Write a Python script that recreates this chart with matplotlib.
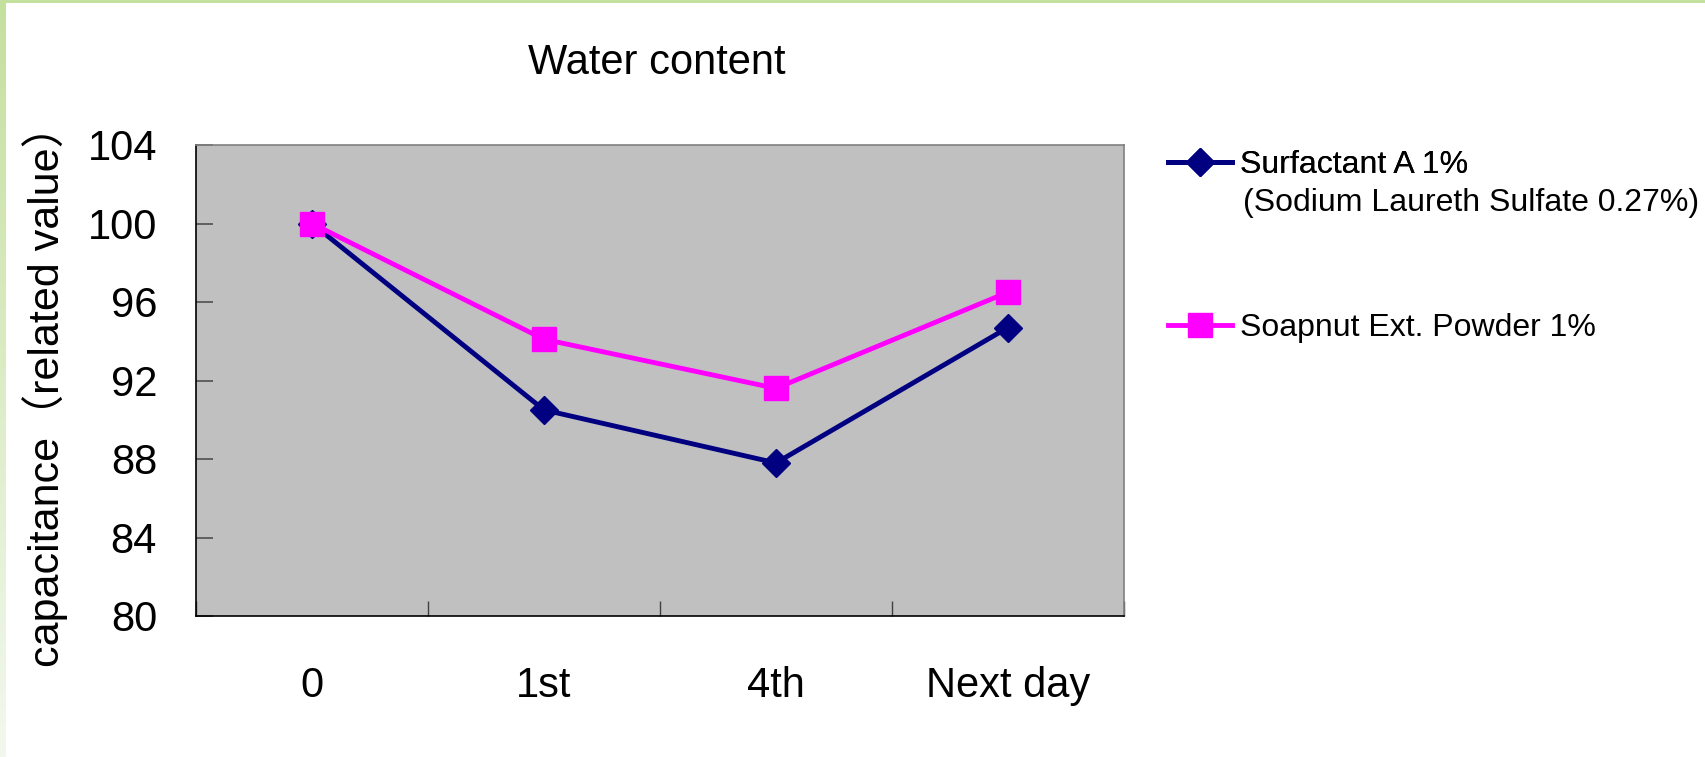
import numpy as np
import matplotlib
matplotlib.use('Agg')
from matplotlib import pyplot as plt
from matplotlib.patches import Rectangle
from matplotlib.ticker import FixedLocator, NullFormatter

categories = ['0', '1st', '4th', 'Next day']
surfactant = [100.0, 90.5, 87.8, 94.7]
soapnut = [100.0, 94.1, 91.6, 96.5]
yticks = [80, 84, 88, 92, 96, 100, 104]

label_a = 'Surfactant A 1%'
label_a2 = '(Sodium Laureth Sulfate 0.27%)'
label_b = 'Soapnut Ext. Powder 1%'

font = ['Liberation Sans', 'Noto Sans CJK JP', 'DejaVu Sans']
W, H = 1706, 757

fig = plt.figure(figsize=(W / 100, H / 100), dpi=100)
fig.patch.set_facecolor('white')

# green frame at top/left
fig.patches.append(Rectangle((0, 1 - 3 / H), 1, 3 / H, transform=fig.transFigure,
                             facecolor='#c4e09e', edgecolor='none', zorder=0))
gax = fig.add_axes([0, 0, 6 / W, 1])
grad = np.linspace(0, 1, 256).reshape(-1, 1)
gax.imshow(grad, aspect='auto', cmap=matplotlib.colors.LinearSegmentedColormap.from_list(
    'g', ['#c4e09e', '#f3f8ee']), extent=[0, 1, 0, 1])
gax.axis('off')

ax = fig.add_axes([196 / W, 1 - 616 / H, (1124 - 196) / W, (616 - 145) / H])
ax.set_facecolor('#c0c0c0')

x = np.arange(len(categories)) + 0.5
l1, = ax.plot(x, surfactant, color='#000080', lw=3.5, marker='D', markersize=14,
              markeredgecolor='#000080', label=label_a, zorder=3)
l2, = ax.plot(x, soapnut, color='#ff00ff', lw=3.5, marker='s', markersize=17,
              markeredgecolor='#ff00ff', label=label_b, zorder=4)

ax.set_xlim(0, len(categories))
ax.set_ylim(80, 104)
ax.set_yticks(yticks)
ax.set_xticks(x)
ax.set_xticklabels(categories, family=font, fontsize=30)
ax.xaxis.set_minor_locator(FixedLocator(np.arange(len(categories) + 1)))
ax.xaxis.set_minor_formatter(NullFormatter())
ax.tick_params(axis='x', which='major', length=0, pad=36)
ax.tick_params(axis='x', which='minor', direction='in', length=11, width=1, color='#404040')
ax.tick_params(axis='y', direction='in', length=12, width=1.2, color='#505050', pad=28,
               labelsize=30)
for t in ax.get_yticklabels():
    t.set_family(font)

for side in ['left', 'bottom']:
    ax.spines[side].set_color('black')
    ax.spines[side].set_linewidth(1.2)
for side in ['top', 'right']:
    ax.spines[side].set_color('#808080')
    ax.spines[side].set_linewidth(1.2)

fig.text(657 / W, 1 - 63 / H, 'Water content', family=font, fontsize=30,
         ha='center', va='center')
fig.text(45 / W, 1 - 386 / H, 'capacitance（related value）',
         family=font, fontsize=31, rotation=90, ha='center', va='center')

leg1 = fig.legend([l1], [label_a], loc='center left', bbox_to_anchor=(1168 / W, 1 - 165 / H),
                  frameon=False, borderpad=0, borderaxespad=0, handlelength=2.0,
                  handletextpad=0.25, prop={'family': font, 'size': 23})
fig.add_artist(leg1)
fig.legend([l2], [label_b], loc='center left', bbox_to_anchor=(1168 / W, 1 - 328 / H),
           frameon=False, borderpad=0, borderaxespad=0, handlelength=2.0,
           handletextpad=0.25, prop={'family': font, 'size': 23})
fig.text(1243 / W, 1 - 203 / H, label_a2, family=font, fontsize=23, ha='left', va='center')

fig.savefig('out.png', dpi=100)
